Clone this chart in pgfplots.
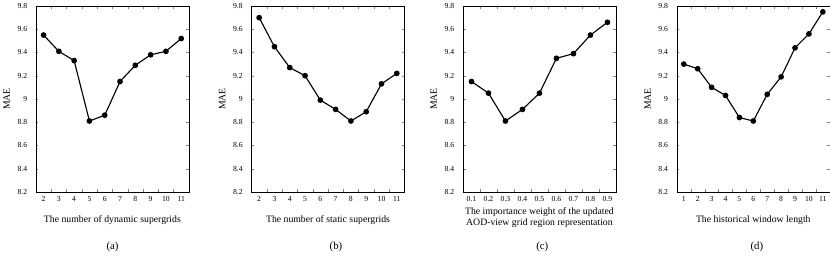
\documentclass[border=0pt]{standalone}
\usepackage{pgfplots}
\pgfplotsset{compat=1.18}
\usepackage{fontspec}
\setmainfont{Liberation Serif}
\pgfplotsset{
  panel/.style={
    scale only axis, width=149pt, height=181pt, anchor=north west,
    ymin=8.2, ymax=9.8,
    ytick={8.2,8.4,8.6,8.8,9,9.2,9.4,9.6,9.8},
    yticklabels={8.2,8.4,8.6,8.8,9,9.2,9.4,9.6,9.8},
    major tick length=2.5pt,
    yticklabel style={xshift=-5pt},
    xticklabel style={yshift=-1pt},
    label style={font=\fontsize{9.5}{10.5}\selectfont},
    ylabel={MAE},
    ylabel style={at={([xshift=-28.5pt]axis description cs:0,0.5)}, anchor=center},
    xlabel style={align=center, yshift=-7pt},
  },
  pl/.style={black, line width=1.1pt, mark=*, mark size=2.2pt, mark options={solid, fill=black}},
}
\begin{document}
\begin{tikzpicture}
% (a)
\begin{axis}[panel, at={(45.7pt,-10pt)}, x tick label as interval,
  tick label style={font=\fontsize{7.5}{8}\selectfont},
  xmin=1.5, xmax=11.5, xtick={1.5,2.5,...,11.5},
  xticklabels={2,3,4,5,6,7,8,9,10,11},
  xlabel={The number of dynamic supergrids}]
\addplot[pl] coordinates {(2,9.55) (3,9.41) (4,9.33) (5,8.81) (6,8.86) (7,9.15) (8,9.29) (9,9.38) (10,9.41) (11,9.52)};
\end{axis}
% (b)
\begin{axis}[panel, at={(255.7pt,-10pt)}, x tick label as interval,
  tick label style={font=\fontsize{7.5}{8}\selectfont},
  xmin=1.5, xmax=11.5, xtick={1.5,2.5,...,11.5},
  xticklabels={2,3,4,5,6,7,8,9,10,11},
  xlabel={The number of static supergrids}]
\addplot[pl] coordinates {(2,9.70) (3,9.45) (4,9.27) (5,9.20) (6,8.99) (7,8.91) (8,8.81) (9,8.89) (10,9.13) (11,9.22)};
\end{axis}
% (c)
\begin{axis}[panel, at={(461.7pt,-10pt)}, x tick label as interval,
  tick label style={font=\fontsize{7.5}{8}\selectfont},
  xmin=0.5, xmax=9.5, xtick={0.5,1.5,...,9.5},
  xticklabels={0.1,0.2,0.3,0.4,0.5,0.6,0.7,0.8,0.9},
  xlabel style={yshift=8pt},
  xlabel={The importance weight of the updated\\AOD-view grid region representation}]
\addplot[pl] coordinates {(1,9.15) (2,9.05) (3,8.81) (4,8.91) (5,9.05) (6,9.35) (7,9.39) (8,9.55) (9,9.66)};
\end{axis}
% (d)
\begin{axis}[panel, at={(670pt,-10pt)}, x tick label as interval,
  tick label style={font=\fontsize{7.5}{8}\selectfont},
  xmin=0.5, xmax=11.5, xtick={0.5,1.5,...,11.5},
  xticklabels={1,2,3,4,5,6,7,8,9,10,11},
  xlabel={The historical window length}]
\addplot[pl] coordinates {(1,9.30) (2,9.26) (3,9.10) (4,9.03) (5,8.84) (6,8.81) (7,9.04) (8,9.19) (9,9.44) (10,9.56) (11,9.75)};
\end{axis}
\node[font=\fontsize{10.5}{12}\selectfont] at (120.3pt,-245pt) {(a)};
\node[font=\fontsize{10.5}{12}\selectfont] at (338pt,-245pt) {(b)};
\node[font=\fontsize{10.5}{12}\selectfont] at (539pt,-245pt) {(c)};
\node[font=\fontsize{10.5}{12}\selectfont] at (748pt,-245pt) {(d)};
\end{tikzpicture}
\end{document}
